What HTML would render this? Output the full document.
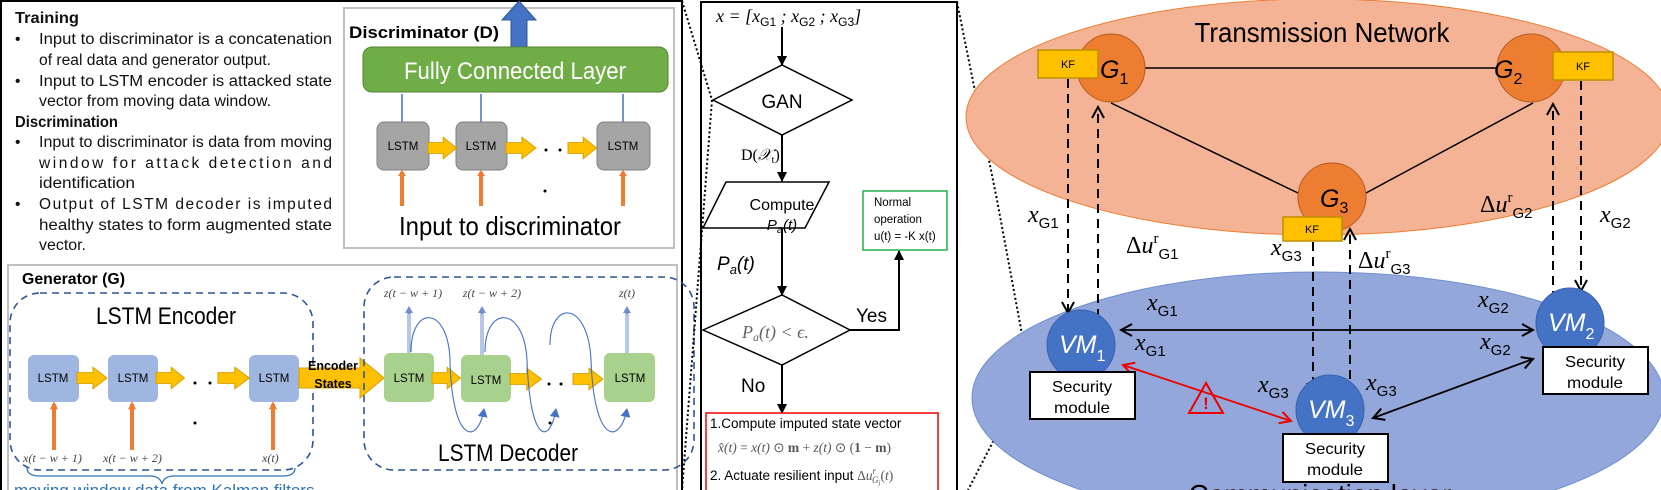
<!DOCTYPE html>
<html><head><meta charset="utf-8"><style>
html,body{margin:0;padding:0;background:#fff;width:1661px;height:490px;overflow:hidden;}
svg{display:block;}
.c{font-family:"Liberation Sans",sans-serif;}
.m{font-family:"Liberation Serif",serif;font-style:italic;}
</style></head><body>
<svg width="1661" height="490" viewBox="0 0 1661 490" xmlns="http://www.w3.org/2000/svg" overflow="hidden">
<defs>
<marker id="ah" markerWidth="10" markerHeight="10" refX="9" refY="5" orient="auto" markerUnits="userSpaceOnUse"><path d="M0,0 L10,5 L0,10 z" fill="#000"/></marker>
<marker id="oa" markerWidth="14" markerHeight="14" refX="12" refY="7" orient="auto" markerUnits="userSpaceOnUse"><path d="M1,1 L12,7 L1,13" fill="none" stroke="#000" stroke-width="2"/></marker>
<marker id="oas" markerWidth="14" markerHeight="14" refX="2" refY="7" orient="auto" markerUnits="userSpaceOnUse"><path d="M13,1 L2,7 L13,13" fill="none" stroke="#000" stroke-width="2"/></marker>
<marker id="ra" markerWidth="14" markerHeight="14" refX="12" refY="7" orient="auto" markerUnits="userSpaceOnUse"><path d="M1,1 L12,7 L1,13" fill="none" stroke="#e00" stroke-width="2"/></marker>
<marker id="ras" markerWidth="14" markerHeight="14" refX="2" refY="7" orient="auto" markerUnits="userSpaceOnUse"><path d="M13,1 L2,7 L13,13" fill="none" stroke="#e00" stroke-width="2"/></marker>
<marker id="ba" markerWidth="10" markerHeight="10" refX="8" refY="5" orient="auto" markerUnits="userSpaceOnUse"><path d="M0,0 L9,5 L0,10 z" fill="#4472c4"/></marker>
<g id="ya"><path d="M0,-6 L16,-6 L16,-12 L30,0 L16,12 L16,6 L0,6 z" fill="#ffc000" stroke="#d4a000" stroke-width="1"/></g>
<g id="oup"><rect x="-2" y="0" width="4" height="34" fill="#ed7d31"/><path d="M-4,4 L0,-2 L4,4 z" fill="#ed7d31"/></g>
</defs>

<!-- LEFT PANEL -->
<rect x="1" y="1" width="681" height="492" fill="none" stroke="#000" stroke-width="2"/>
<g class="c" font-size="15.5" fill="#111">
<text x="15" y="23" font-weight="bold" textLength="64" lengthAdjust="spacingAndGlyphs">Training</text>
<text x="15" y="44">•</text><text x="39" y="44" textLength="293" lengthAdjust="spacingAndGlyphs">Input to discriminator is a concatenation</text>
<text x="39" y="65" textLength="232" lengthAdjust="spacingAndGlyphs">of real data and generator output.</text>
<text x="15" y="86">•</text><text x="39" y="86" textLength="293" lengthAdjust="spacingAndGlyphs">Input to LSTM encoder is attacked state</text>
<text x="39" y="106" textLength="232" lengthAdjust="spacingAndGlyphs">vector from moving data window.</text>
<text x="15" y="127" font-weight="bold" textLength="103" lengthAdjust="spacingAndGlyphs">Discrimination</text>
<text x="15" y="147">•</text><text x="39" y="147" textLength="293" lengthAdjust="spacingAndGlyphs">Input to discriminator is data from moving</text>
<text x="39" y="168" textLength="293" lengthAdjust="spacing">window    for    attack    detection    and</text>
<text x="39" y="188" textLength="96" lengthAdjust="spacingAndGlyphs">identification</text>
<text x="15" y="209">•</text><text x="39" y="209" textLength="293" lengthAdjust="spacing">Output  of  LSTM  decoder  is  imputed</text>
<text x="39" y="230" textLength="293" lengthAdjust="spacingAndGlyphs">healthy states to form augmented state</text>
<text x="39" y="250" textLength="47" lengthAdjust="spacingAndGlyphs">vector.</text>
</g>

<!-- Discriminator -->
<rect x="344" y="8" width="330" height="240" fill="#fff" stroke="#c0c0c0" stroke-width="2"/>
<text x="349" y="38" class="c" font-size="17" font-weight="bold" textLength="150" lengthAdjust="spacingAndGlyphs">Discriminator (D)</text>
<path d="M511,47 L511,20 L502,20 L519,1 L536,20 L527,20 L527,47 z" fill="#4472c4" stroke="#2f5597"/>
<rect x="363" y="47" width="305" height="45" rx="9" fill="#70ad47" stroke="#548235"/>
<text x="515" y="79" text-anchor="middle" class="c" font-size="24" fill="#fff" textLength="222" lengthAdjust="spacingAndGlyphs">Fully Connected Layer</text>
<g stroke="#4472c4" stroke-width="1.5"><line x1="402" y1="122" x2="402" y2="94"/><line x1="481" y1="122" x2="481" y2="94"/><line x1="623" y1="122" x2="623" y2="94"/></g>
<g fill="#a5a5a5" stroke="#7f7f7f"><rect x="377" y="122" width="52" height="48" rx="7"/><rect x="456" y="122" width="51" height="48" rx="7"/><rect x="597" y="122" width="53" height="48" rx="7"/></g>
<g class="c" font-size="11.5" text-anchor="middle"><text x="403" y="150">LSTM</text><text x="481" y="150">LSTM</text><text x="623" y="150">LSTM</text></g>
<use href="#ya" transform="translate(428,148) scale(0.95,0.9)"/>
<use href="#ya" transform="translate(506,148) scale(1,0.9)"/>
<use href="#ya" transform="translate(568,148) scale(0.95,0.9)"/>
<circle cx="546" cy="150" r="1.5"/><circle cx="560" cy="150" r="1.5"/><circle cx="545" cy="191" r="1.5"/>
<use href="#oup" transform="translate(402,172)"/><use href="#oup" transform="translate(481,172)"/><use href="#oup" transform="translate(623,172)"/>
<text x="510" y="235" text-anchor="middle" class="c" font-size="26" textLength="222" lengthAdjust="spacingAndGlyphs">Input to discriminator</text>

<!-- Generator -->
<rect x="8" y="265" width="669" height="230" fill="none" stroke="#c0c0c0" stroke-width="2"/>
<text x="22" y="284" class="c" font-size="16" font-weight="bold" textLength="103" lengthAdjust="spacingAndGlyphs">Generator (G)</text>
<rect x="10" y="293" width="303" height="177" rx="30" fill="none" stroke="#2f5597" stroke-width="1.6" stroke-dasharray="7,5"/>
<text x="166" y="324" text-anchor="middle" class="c" font-size="24" textLength="140" lengthAdjust="spacingAndGlyphs">LSTM Encoder</text>
<g fill="#9fb6e0"><rect x="28" y="355" width="51" height="47" rx="6"/><rect x="108" y="355" width="50" height="47" rx="6"/><rect x="249" y="355" width="50" height="47" rx="6"/></g>
<g class="c" font-size="11.5" text-anchor="middle"><text x="53" y="382">LSTM</text><text x="133" y="382">LSTM</text><text x="274" y="382">LSTM</text></g>
<use href="#ya" transform="translate(77,378) scale(1,0.9)"/>
<use href="#ya" transform="translate(156,378) scale(0.95,0.9)"/>
<use href="#ya" transform="translate(218,378) scale(1.05,0.9)"/>
<circle cx="195" cy="383" r="1.5"/><circle cx="210" cy="383" r="1.5"/><circle cx="195" cy="423" r="1.5"/>
<use href="#oup" transform="translate(54,404) scale(1,1.35)"/><use href="#oup" transform="translate(132,404) scale(1,1.35)"/><use href="#oup" transform="translate(273,404) scale(1,1.35)"/>
<g class="m" font-size="12" fill="#444"><text x="23" y="462">x(t − w + 1)</text><text x="103" y="462">x(t − w + 2)</text><text x="262" y="462">x(t)</text></g>
<path d="M27,468 Q27,476 40,476 L150,476 Q160,476 162,484 Q164,476 174,476 L283,476 Q295,476 295,468" fill="none" stroke="#2e75b6" stroke-width="1.2"/>
<text x="14" y="496" class="c" font-size="17" fill="#2e75b6">moving window data from Kalman filters</text>

<!-- Encoder states arrow -->
<path d="M299,368 L360,368 L360,358 L384,378 L360,398 L360,388 L299,388 z" fill="#ffc000" stroke="#d4a000"/>
<text x="333" y="370" text-anchor="middle" class="c" font-size="12.5" font-weight="bold">Encoder</text>
<text x="333" y="388" text-anchor="middle" class="c" font-size="12.5" font-weight="bold">States</text>

<!-- Decoder -->
<rect x="364" y="277" width="330" height="193" rx="30" fill="none" stroke="#2f5597" stroke-width="1.6" stroke-dasharray="7,5"/>
<text x="508" y="461" text-anchor="middle" class="c" font-size="24" textLength="140" lengthAdjust="spacingAndGlyphs">LSTM Decoder</text>
<g fill="#a9d18e"><rect x="384" y="353" width="50" height="49" rx="6"/><rect x="461" y="355" width="50" height="47" rx="6"/><rect x="604" y="353" width="51" height="49" rx="6"/></g>
<g class="c" font-size="11.5" text-anchor="middle"><text x="409" y="382">LSTM</text><text x="486" y="384">LSTM</text><text x="630" y="382">LSTM</text></g>
<use href="#ya" transform="translate(432,378) scale(0.95,0.9)"/>
<use href="#ya" transform="translate(510,379) scale(1.05,0.9)"/>
<use href="#ya" transform="translate(573,379) scale(1,0.9)"/>
<circle cx="549" cy="384" r="1.5"/><circle cx="561" cy="384" r="1.5"/><circle cx="550" cy="423" r="1.5"/>
<g stroke="#6f8fd0" stroke-width="3"><line x1="409" y1="353" x2="409" y2="312"/><line x1="482" y1="355" x2="482" y2="312"/><line x1="627" y1="353" x2="627" y2="312"/></g>
<g stroke="#fff" stroke-width="1"><line x1="409" y1="353" x2="409" y2="314"/><line x1="482" y1="355" x2="482" y2="314"/><line x1="627" y1="353" x2="627" y2="314"/></g>
<g fill="#6f8fd0"><path d="M405,313 L409,306 L413,313z"/><path d="M478,313 L482,306 L486,313z"/><path d="M623,313 L627,306 L631,313z"/></g>
<g class="m" font-size="12" fill="#444" text-anchor="middle"><text x="413" y="297">z(t − w + 1)</text><text x="492" y="297">z(t − w + 2)</text><text x="627" y="297">z(t)</text></g>
<g fill="none" stroke="#4472c4" stroke-width="1.1">
<path d="M411,352 C411,305 448,305 450,360 C452,445 478,445 484,409" marker-end="url(#ba)"/>
<path d="M485,352 C485,305 524,305 527,360 C530,445 550,445 556,409" marker-end="url(#ba)"/>
<path d="M550,345 C550,300 588,300 591,360 C594,445 620,445 627,409" marker-end="url(#ba)"/>
</g>

<!-- Dotted zoom lines -->
<polyline points="682,1 712,100 682,490" fill="none" stroke="#000" stroke-width="2" stroke-dasharray="2,2.5"/>
<polyline points="957,2 997,200 1029,372 968,490" fill="none" stroke="#000" stroke-width="2" stroke-dasharray="2,2.5"/>

<!-- FLOWCHART -->
<rect x="701" y="2" width="256" height="492" fill="none" stroke="#000" stroke-width="2"/>
<text x="716" y="22" class="m" font-size="18">x = [x<tspan class="c" font-style="normal" font-size="12" dy="4">G1</tspan><tspan dy="-4"> ; x</tspan><tspan class="c" font-style="normal" font-size="12" dy="4">G2</tspan><tspan dy="-4"> ; x</tspan><tspan class="c" font-style="normal" font-size="12" dy="4">G3</tspan><tspan dy="-4">]</tspan></text>
<g stroke="#000" stroke-width="2" fill="none">
<line x1="782" y1="27" x2="782" y2="65" marker-end="url(#ah)"/>
<polygon points="713,100 782,65 852,100 782,135" stroke-width="1.5"/>
<line x1="782" y1="135" x2="782" y2="181" marker-end="url(#ah)"/>
<polygon points="726,182 829,182 805,228 703,228" stroke-width="1.5"/>
<line x1="782" y1="228" x2="782" y2="295" marker-end="url(#ah)"/>
<polygon points="703,330 782,295 850,330 782,365" stroke-width="1.5"/>
<polyline points="850,330 899,330 899,251" marker-end="url(#ah)"/>
<line x1="782" y1="365" x2="782" y2="413" marker-end="url(#ah)"/>
</g>
<text x="782" y="108" text-anchor="middle" class="c" font-size="19">GAN</text>
<text x="741" y="160" font-family="Liberation Serif,serif" font-size="16">D(<tspan font-style="italic">𝒳</tspan><tspan font-size="10" dy="3">t</tspan><tspan dy="-3">)</tspan></text>
<text x="782" y="210" text-anchor="middle" class="c" font-size="16">Compute</text>
<text x="782" y="230" text-anchor="middle" class="c" font-size="15" font-style="italic">P<tspan font-size="11" dy="3">a</tspan><tspan dy="-3">(t)</tspan></text>
<text x="717" y="270" class="c" font-size="19" font-style="italic">P<tspan font-size="13" dy="4">a</tspan><tspan dy="-4">(t)</tspan></text>
<text x="742" y="338" class="m" font-size="18" fill="#666">P<tspan font-size="12" dy="3">a</tspan><tspan dy="-3">(t)  &lt;  ϵ.</tspan></text>
<text x="856" y="322" class="c" font-size="19">Yes</text>
<text x="741" y="392" class="c" font-size="19">No</text>
<rect x="863" y="191" width="84" height="59" fill="#fff" stroke="#22b14c" stroke-width="1.5"/>
<g class="c" font-size="11.5"><text x="874" y="206">Normal</text><text x="874" y="223">operation</text><text x="874" y="240">u(t) = -K x(t)</text></g>
<rect x="706" y="413" width="232" height="82" fill="none" stroke="#e00" stroke-width="1.5"/>
<text x="710" y="428" class="c" font-size="13.5">1.Compute imputed state vector</text>
<text x="718" y="452" font-family="Liberation Serif,serif" font-size="13.5" fill="#555"><tspan font-style="italic">x̂(t)</tspan> = <tspan font-style="italic">x(t)</tspan> ⊙ <tspan font-weight="bold">m</tspan> + <tspan font-style="italic">z(t)</tspan> ⊙ (<tspan font-weight="bold">1</tspan> − <tspan font-weight="bold">m</tspan>)</text>
<text x="710" y="480" class="c" font-size="13.5">2. Actuate resilient input <tspan font-family="Liberation Serif,serif" fill="#555">Δ<tspan font-style="italic">u</tspan><tspan font-size="9" dy="-6" font-style="italic">r</tspan><tspan font-size="9" dy="9" dx="-4" font-style="italic">G</tspan><tspan font-size="7" dy="2" font-style="italic">j</tspan><tspan dy="-5">(</tspan><tspan font-style="italic">t</tspan>)</tspan></text>

<!-- RIGHT: networks -->
<ellipse cx="1318" cy="398" rx="346" ry="126" fill="#93a7da" stroke="#6f8fd0" stroke-width="1"/>
<text x="1320" y="504" text-anchor="middle" class="c" font-size="28">Communication layer</text>
<ellipse cx="1318" cy="117" rx="352" ry="118" fill="#f4b394" stroke="#ed7d31" stroke-width="1"/>
<text x="1322" y="42" text-anchor="middle" class="c" font-size="28" textLength="255" lengthAdjust="spacingAndGlyphs">Transmission Network</text>
<g stroke="#000" stroke-width="1.5"><line x1="1145" y1="68" x2="1497" y2="68"/><line x1="1111" y1="103" x2="1298" y2="193"/><line x1="1533" y1="103" x2="1366" y2="193"/></g>
<g fill="#ed7d31" stroke="#b35d22" stroke-width="1"><ellipse cx="1111" cy="68" rx="34" ry="34"/><ellipse cx="1531" cy="68" rx="34" ry="34"/><ellipse cx="1332" cy="197" rx="34" ry="34"/></g>
<g class="c" font-size="25" font-style="italic"><text x="1100" y="78">G<tspan font-size="16" font-style="normal" dy="6">1</tspan></text><text x="1494" y="78">G<tspan font-size="16" font-style="normal" dy="6">2</tspan></text><text x="1320" y="207">G<tspan font-size="16" font-style="normal" dy="6">3</tspan></text></g>
<g fill="#ffc000" stroke="#bf9000" stroke-width="1.5"><rect x="1038" y="50" width="60" height="28"/><rect x="1553" y="52" width="60" height="28"/><rect x="1283" y="217" width="59" height="24"/></g>
<g class="c" font-size="11" text-anchor="middle"><text x="1068" y="68">KF</text><text x="1583" y="70">KF</text><text x="1312" y="233">KF</text></g>

<!-- dashed arrows -->
<g stroke="#000" stroke-width="2" stroke-dasharray="9,6" fill="none">
<line x1="1068" y1="79" x2="1068" y2="313" marker-end="url(#oa)"/>
<line x1="1098" y1="318" x2="1098" y2="107" marker-end="url(#oa)"/>
<line x1="1313" y1="242" x2="1313" y2="394" marker-end="url(#oa)"/>
<line x1="1350" y1="394" x2="1350" y2="229" marker-end="url(#oa)"/>
<line x1="1553" y1="300" x2="1553" y2="104" marker-end="url(#oa)"/>
<line x1="1581" y1="81" x2="1581" y2="291" marker-end="url(#oa)"/>
</g>

<!-- solid arrows -->
<line x1="1121" y1="330" x2="1533" y2="330" stroke="#000" stroke-width="1.8" marker-end="url(#oa)" marker-start="url(#oas)"/>
<line x1="1373" y1="418" x2="1533" y2="359" stroke="#000" stroke-width="1.8" marker-end="url(#oa)" marker-start="url(#oas)"/>
<line x1="1123" y1="365" x2="1291" y2="421" stroke="#e00" stroke-width="1.8" marker-end="url(#ra)" marker-start="url(#ras)"/>
<path d="M1206,383 L1189,413 L1223,413 z" fill="none" stroke="#e00" stroke-width="2"/>
<text x="1206" y="409" text-anchor="middle" class="c" font-size="17" font-weight="bold" fill="#e00">!</text>

<!-- VMs -->
<g fill="#4472c4" stroke="#3a62ad"><ellipse cx="1081" cy="345" rx="34" ry="35"/><ellipse cx="1570" cy="323" rx="34" ry="35"/><ellipse cx="1330" cy="410" rx="34" ry="35"/></g>
<g class="c" font-size="25" font-style="italic" fill="#fff"><text x="1059" y="353">VM<tspan font-size="16" font-style="normal" dy="8">1</tspan></text><text x="1548" y="331">VM<tspan font-size="16" font-style="normal" dy="8">2</tspan></text><text x="1308" y="418">VM<tspan font-size="16" font-style="normal" dy="8">3</tspan></text></g>
<g fill="#fff" stroke="#000" stroke-width="2"><rect x="1030" y="372" width="105" height="47"/><rect x="1543" y="347" width="105" height="47"/><rect x="1283" y="434" width="105" height="48"/></g>
<g class="c" font-size="16" text-anchor="middle"><text x="1082" y="392" textLength="60" lengthAdjust="spacingAndGlyphs">Security</text><text x="1082" y="413" textLength="56" lengthAdjust="spacingAndGlyphs">module</text><text x="1595" y="367" textLength="60" lengthAdjust="spacingAndGlyphs">Security</text><text x="1595" y="388" textLength="56" lengthAdjust="spacingAndGlyphs">module</text><text x="1335" y="454" textLength="60" lengthAdjust="spacingAndGlyphs">Security</text><text x="1335" y="475" textLength="56" lengthAdjust="spacingAndGlyphs">module</text></g>

<!-- labels -->
<g class="m" font-size="24">
<text x="1028" y="222">x<tspan class="c" font-style="normal" font-size="15" dy="6">G1</tspan></text>
<text x="1600" y="222">x<tspan class="c" font-style="normal" font-size="15" dy="6">G2</tspan></text>
<text x="1271" y="255">x<tspan class="c" font-style="normal" font-size="15" dy="6">G3</tspan></text>
<text x="1147" y="310">x<tspan class="c" font-style="normal" font-size="15" dy="6">G1</tspan></text>
<text x="1135" y="350">x<tspan class="c" font-style="normal" font-size="15" dy="6">G1</tspan></text>
<text x="1478" y="307">x<tspan class="c" font-style="normal" font-size="15" dy="6">G2</tspan></text>
<text x="1480" y="349">x<tspan class="c" font-style="normal" font-size="15" dy="6">G2</tspan></text>
<text x="1258" y="392">x<tspan class="c" font-style="normal" font-size="15" dy="6">G3</tspan></text>
<text x="1366" y="390">x<tspan class="c" font-style="normal" font-size="15" dy="6">G3</tspan></text>
<text x="1126" y="253"><tspan font-style="normal">Δ</tspan>u<tspan font-style="normal" font-size="15" dy="-10">r</tspan><tspan class="c" font-style="normal" font-size="15" dy="16">G1</tspan></text>
<text x="1358" y="268"><tspan font-style="normal">Δ</tspan>u<tspan font-style="normal" font-size="15" dy="-10">r</tspan><tspan class="c" font-style="normal" font-size="15" dy="16">G3</tspan></text>
<text x="1480" y="212"><tspan font-style="normal">Δ</tspan>u<tspan font-style="normal" font-size="15" dy="-10">r</tspan><tspan class="c" font-style="normal" font-size="15" dy="16">G2</tspan></text>
</g>
</svg>
</body></html>
